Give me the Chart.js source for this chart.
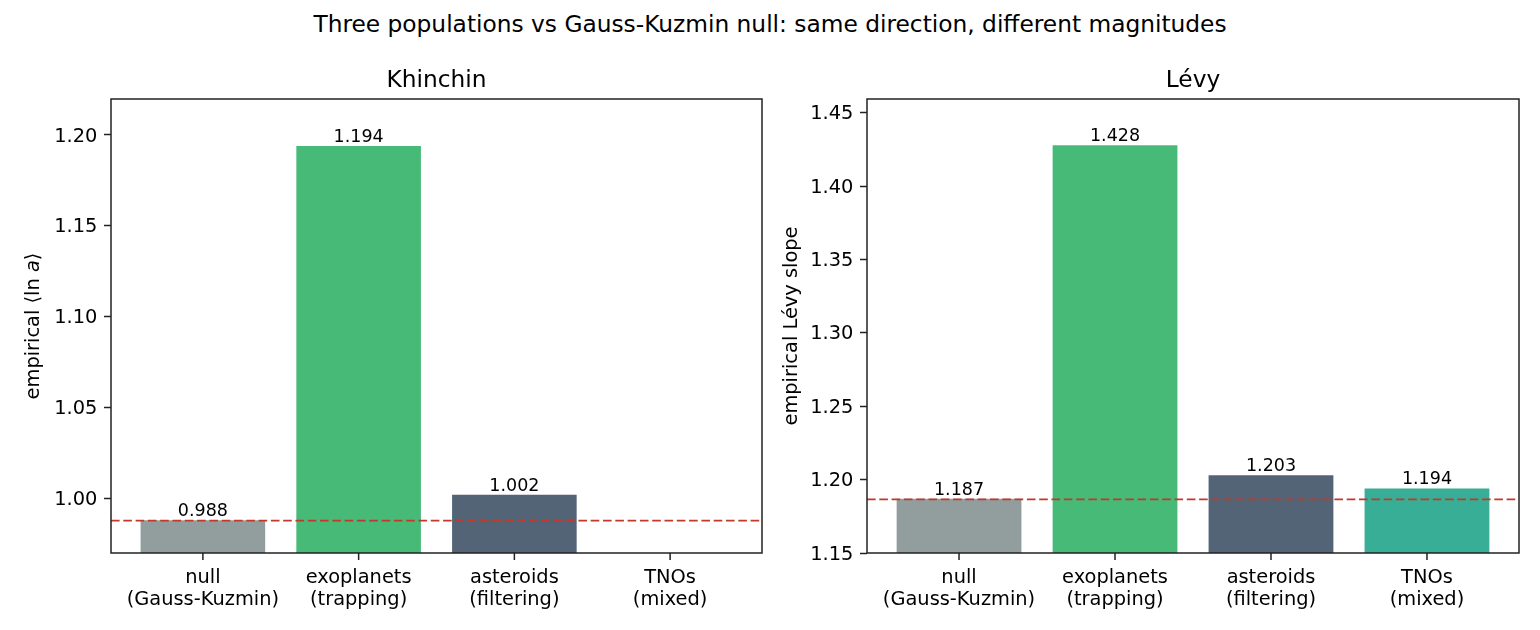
<!DOCTYPE html>
<html><head><meta charset="utf-8">
<script src="https://cdn.jsdelivr.net/npm/chart.js@4.4.0/dist/chart.umd.min.js"></script>
<style>
body{margin:0;background:#fff;width:1540px;height:630px;overflow:hidden;position:relative;font-family:'DejaVu Sans',sans-serif;}
#sup{position:absolute;left:0;top:12px;width:1540px;text-align:center;font-size:23.3px;line-height:23.3px;color:#000;white-space:nowrap;}
canvas{position:absolute;top:0;}
</style></head><body>
<div id="sup">Three populations vs Gauss-Kuzmin null: same direction, different magnitudes</div>
<canvas id="c1" width="780" height="630" style="left:0;width:780px;height:630px"></canvas>
<canvas id="c2" width="760" height="630" style="left:780px;width:760px;height:630px"></canvas>
<script>
// ---- data ----
const categories = [["null","(Gauss-Kuzmin)"],["exoplanets","(trapping)"],["asteroids","(filtering)"],["TNOs","(mixed)"]];
const barColors = ['rgba(127,140,141,0.85)','rgba(39,174,96,0.85)','rgba(52,73,94,0.85)','rgba(22,160,133,0.85)'];
const khinchinValues = [0.988, 1.194, 1.002, null];
const levyValues = [1.187, 1.428, 1.203, 1.194];
const khinchinNull = 0.98785;
const levyNull = 1.18657;
const khinchinTicks = [1.00, 1.05, 1.10, 1.15, 1.20];
const levyTicks = [1.15, 1.20, 1.25, 1.30, 1.35, 1.40, 1.45];
const khinchinRange = [0.97, 1.2198];
const levyRange = [1.15, 1.4595];

const FONT = "'DejaVu Sans'";
const TICK_PX = 19.4, BARLBL_PX = 17.5, TITLE_PX = 23.3;

function makeChart(id, o) {
  const ctx = document.getElementById(id);
  const framePlugin = {
    id: 'frame_' + id,
    afterDatasetsDraw(chart) {
      const c = chart.ctx, a = chart.chartArea, ys = chart.scales.y;
      const meta = chart.getDatasetMeta(0);
      c.save();
      c.font = BARLBL_PX + 'px ' + FONT;
      c.fillStyle = '#000';
      c.textAlign = 'center';
      c.textBaseline = 'alphabetic';
      meta.data.forEach((el, i) => {
        const v = o.values[i];
        if (v === null || v === undefined) return;
        c.fillText(v.toFixed(3), el.x, el.y - 4);
      });
      const yp = ys.getPixelForValue(o.nullLine);
      c.beginPath();
      c.setLineDash([8.6, 3.7]);
      c.lineWidth = 1.8;
      c.strokeStyle = '#c0392b';
      c.moveTo(a.left, yp); c.lineTo(a.right, yp);
      c.stroke();
      c.restore();
    },
    afterDraw(chart) {
      const c = chart.ctx, a = chart.chartArea, xs = chart.scales.x;
      c.save();
      c.setLineDash([]);
      c.strokeStyle = '#222';
      c.lineWidth = 1.5;
      c.strokeRect(a.left, a.top, a.right - a.left, a.bottom - a.top);
      // x tick marks
      c.beginPath();
      [0, 1, 2, 3].slice(0, categories.length).forEach(i => {
        const px = xs.getPixelForValue(i);
        c.moveTo(px, a.bottom); c.lineTo(px, a.bottom + 7);
      });
      c.stroke();
      c.fillStyle = '#000';
      c.font = TITLE_PX + 'px ' + FONT;
      c.textAlign = 'center';
      c.textBaseline = 'alphabetic';
      c.fillText(o.title, (a.left + a.right) / 2, a.top - 11.7);
      const cy = (a.top + a.bottom) / 2;
      c.translate(o.ylabelX, cy);
      c.rotate(-Math.PI / 2);
      c.textBaseline = 'middle';
      c.textAlign = 'left';
      let total = 0;
      const widths = o.ylabel.map(p => {
        c.font = (p.italic ? 'italic ' : '') + TICK_PX + 'px ' + FONT;
        const w = c.measureText(p.t).width; total += w; return w;
      });
      let x = -total / 2;
      o.ylabel.forEach((p, i) => {
        c.font = (p.italic ? 'italic ' : '') + TICK_PX + 'px ' + FONT;
        c.fillText(p.t, x, 0);
        x += widths[i];
      });
      c.restore();
    }
  };
  return new Chart(ctx, {
    type: 'bar',
    data: {
      datasets: [{
        data: o.values.map((v, i) => ({x: i, y: v})),
        backgroundColor: barColors,
        borderWidth: 0,
        barPercentage: 0.8,
        categoryPercentage: 1.0
      }]
    },
    options: {
      responsive: false,
      animation: false,
      devicePixelRatio: 1,
      layout: {padding: {top: 99, left: 0, right: o.rightPad, bottom: 0}},
      plugins: {legend: {display: false}, tooltip: {enabled: false}, title: {display: false}},
      scales: {
        x: {
          type: 'linear',
          min: -0.59, max: 3.59,
          offset: false,
          afterBuildTicks(s) { s.ticks = categories.map((_, i) => ({value: i})); },
          afterFit(s) { s.height = 77; },
          border: {display: false},
          grid: {display: false},
          ticks: {
            autoSkip: false, maxRotation: 0, minRotation: 0, padding: 6,
            color: '#000',
            font: {family: FONT, size: TICK_PX, lineHeight: 1.13},
            callback: (v) => categories[v]
          }
        },
        y: {
          type: 'linear',
          min: o.range[0], max: o.range[1],
          afterBuildTicks(s) { s.ticks = o.ticks.map(v => ({value: v})); },
          afterFit(s) { s.width = o.yWidth; },
          border: {display: false},
          grid: {display: true, offset: false, drawOnChartArea: false, drawTicks: true, tickLength: 7, tickWidth: 1.5, tickColor: '#222'},
          ticks: {
            padding: 6.6, color: '#000', labelOffset: 1.5,
            font: {family: FONT, size: TICK_PX},
            callback: (v) => Number(v).toFixed(2)
          }
        }
      }
    },
    plugins: [framePlugin]
  });
}

makeChart('c1', {
  values: khinchinValues, nullLine: khinchinNull, ticks: khinchinTicks, range: khinchinRange,
  title: 'Khinchin', yWidth: 111, rightPad: 18, ylabelX: 34,
  ylabel: [{t: 'empirical \u27E8ln '}, {t: 'a', italic: true}, {t: '\u27E9'}]
});
makeChart('c2', {
  values: levyValues, nullLine: levyNull, ticks: levyTicks, range: levyRange,
  title: 'L\u00E9vy', yWidth: 87, rightPad: 21, ylabelX: 12,
  ylabel: [{t: 'empirical L\u00E9vy slope'}]
});
</script>
</body></html>
